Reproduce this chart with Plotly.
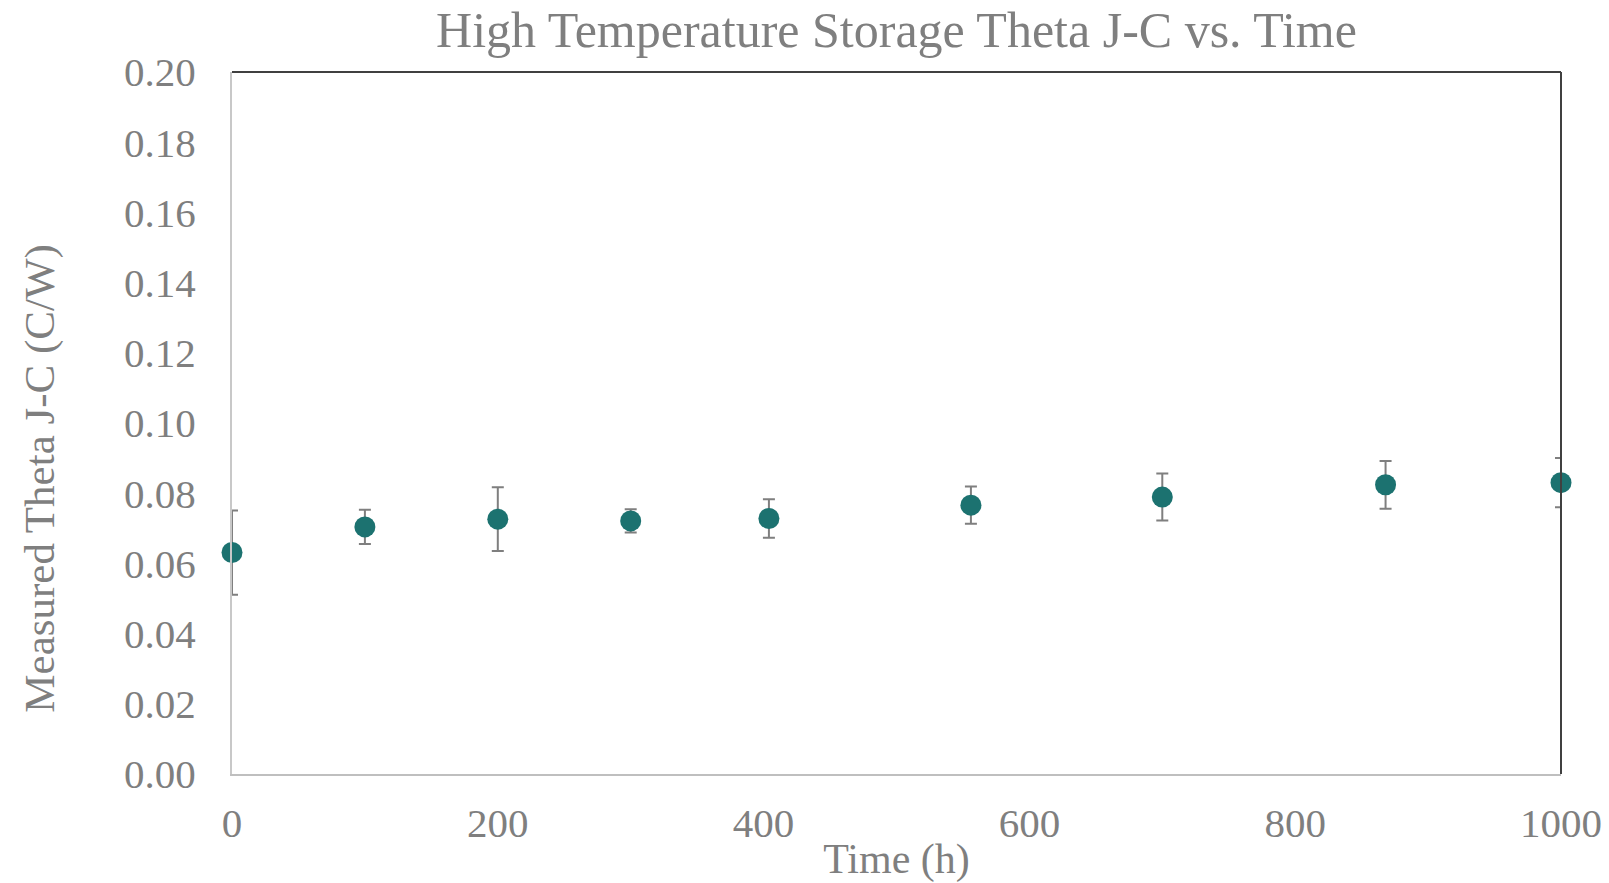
import plotly.graph_objects as go

time_h = [0, 100, 200, 300, 404, 556, 700, 868, 1000]
theta_jc = [0.0631, 0.0704, 0.0726, 0.0721, 0.0728, 0.0766, 0.0789, 0.0824, 0.0830]
err = [0.0120, 0.0049, 0.0091, 0.0033, 0.0055, 0.0053, 0.0067, 0.0068, 0.0070]

title_text = "High Temperature Storage Theta J-C vs. Time"
x_title = "Time (h)"
y_title = "Measured Theta J-C (C/W)"

FONT = "Liberation Serif, Times New Roman, serif"
GRAY = "#7f7f7f"

fig = go.Figure()
fig.add_trace(go.Scatter(
    x=time_h, y=theta_jc, mode="markers",
    marker=dict(size=21, color="#1c7270"),
    error_y=dict(type="data", array=err, visible=True, color="#7f7f7f", thickness=2, width=6),
    cliponaxis=False, showlegend=False,
))

fig.update_layout(
    width=1609, height=883,
    paper_bgcolor="white", plot_bgcolor="white",
    margin=dict(l=231.5, r=47.5, t=72, b=109, autoexpand=False),
    title=dict(text=title_text, x=0.5, xref="paper", xanchor="center", y=0.967, yanchor="middle",
               font=dict(family=FONT, size=50, color=GRAY)),
    font=dict(family=FONT, color=GRAY),
    shapes=[
        dict(type="line", xref="paper", yref="paper", x0=0, x1=1, y0=1, y1=1,
             line=dict(color="#404040", width=2)),
        dict(type="line", xref="paper", yref="paper", x0=1, x1=1, y0=0, y1=1,
             line=dict(color="#404040", width=2)),
    ],
    annotations=[
        dict(text=y_title, xref="paper", yref="paper", x=-0.1447, y=0.4217,
             xanchor="center", yanchor="middle", textangle=-90, showarrow=False,
             font=dict(family=FONT, size=43, color=GRAY)),
    ],
)
fig.update_xaxes(
    range=[0, 1000], dtick=200, tick0=0, showgrid=False, zeroline=False,
    showline=True, linecolor="#bfbfbf", linewidth=2, ticks="", automargin=False,
    tickfont=dict(family=FONT, size=41, color=GRAY), ticklabelstandoff=12,
    title=dict(text=x_title, font=dict(family=FONT, size=42, color=GRAY), standoff=4),
)
fig.update_yaxes(
    range=[0, 0.2], dtick=0.02, tick0=0, tickformat=".2f", showgrid=False, zeroline=False,
    showline=True, linecolor="#c8c8c8", linewidth=2, ticks="", automargin=False,
    tickfont=dict(family=FONT, size=41, color=GRAY), ticklabelstandoff=26,
)

fig.write_html("out.html")
